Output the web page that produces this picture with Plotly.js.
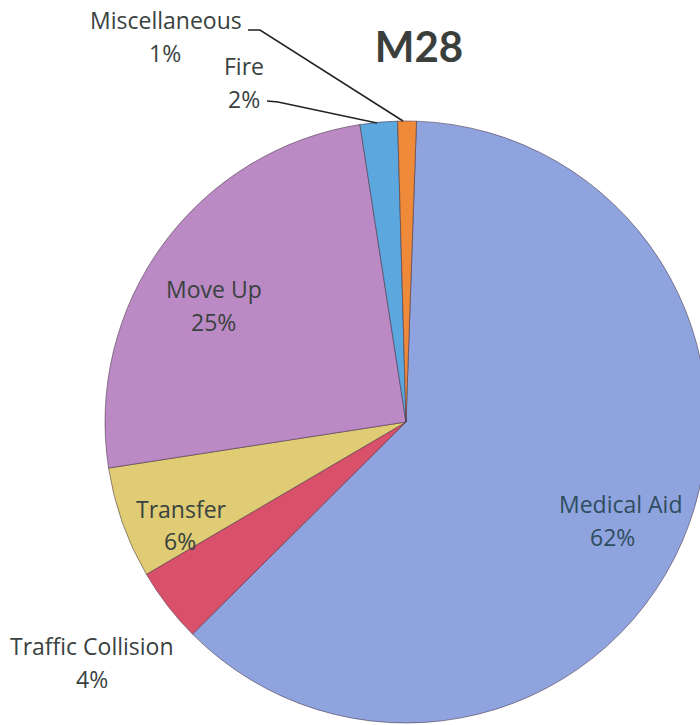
<!DOCTYPE html>
<html>
<head>
<meta charset="utf-8">
<script src="https://cdn.plot.ly/plotly-3.0.1.min.js"></script>
<style>
html,body{margin:0;padding:0;overflow:hidden;background:#fff;width:700px;height:725px;}
#chart{width:720px;height:740px;}
</style>
</head>
<body>
<div id="chart"></div>
<script>
const categories = ["Medical Aid", "Traffic Collision", "Transfer", "Move Up", "Fire", "Miscellaneous"];
const values = [62, 4, 6, 25, 2, 1];
const colors = ["#8fa4de", "#d9506a", "#dfcc74", "#bb8ac4", "#5ca8de", "#ee8a3a"];
const chartTitle = "M28";

const W = 720, H = 740;
const px = x => x / W;
const py = y => 1 - y / H;

const cx = 406, cy = 422, r = 301;

const textColor = "#39423f";
const font = "'Open Sans', Lato, sans-serif";

// label name centre, percent centre, colour
const labelPos = {
  "Medical Aid": [620, 504, 612, 537, "#2e4d60"],
  "Traffic Collision": [92, 646, 92, 679, textColor],
  "Transfer": [181, 509, 180, 541, textColor],
  "Move Up": [214, 289, 213, 322, textColor],
  "Fire": [244, 66, 244, 99, textColor],
  "Miscellaneous": [166, 20, 165, 53, textColor]
};

const annotations = [];
categories.forEach((c, i) => {
  const p = labelPos[c];
  annotations.push({
    x: px(p[0]), y: py(p[1]), xref: "paper", yref: "paper",
    text: c, showarrow: false, xanchor: "center", yanchor: "middle",
    font: {family: font, size: 23, color: p[4]}
  });
  annotations.push({
    x: px(p[2]), y: py(p[3]), xref: "paper", yref: "paper",
    text: values[i] + "%", showarrow: false, xanchor: "center", yanchor: "middle",
    font: {family: font, size: 23, color: p[4]}
  });
});

const shapes = [
  {type: "path", xref: "paper", yref: "paper",
   path: `M ${px(248)} ${py(30)} L ${px(260)} ${py(30)} L ${px(403)} ${py(121)}`,
   line: {color: "#222", width: 1.5}},
  {type: "path", xref: "paper", yref: "paper",
   path: `M ${px(267)} ${py(101)} L ${px(278)} ${py(102)} L ${px(377)} ${py(123)}`,
   line: {color: "#222", width: 1.5}}
];

const data = [{
  type: "pie",
  labels: categories,
  values: values,
  sort: false,
  direction: "clockwise",
  rotation: 2,
  marker: {colors: colors, line: {color: "rgba(70,50,70,0.55)", width: 1}},
  textinfo: "none",
  hoverinfo: "label+percent",
  showlegend: false,
  domain: {x: [(cx - r) / W, (cx + r) / W], y: [1 - (cy + r) / H, 1 - (cy - r) / H]}
}];

const layout = {
  width: W, height: H,
  margin: {l: 0, r: 0, t: 0, b: 0},
  paper_bgcolor: "#fff",
  showlegend: false,
  title: {text: "<b>" + chartTitle + "</b>", x: px(419), y: py(47), xanchor: "center", yanchor: "middle", xref: "paper", yref: "paper",
          font: {family: "Lato, 'Open Sans', sans-serif", size: 42, color: "#3a3f3b"}},
  annotations: annotations,
  shapes: shapes
};

Plotly.newPlot("chart", data, layout, {displayModeBar: false, staticPlot: true});
</script>
</body>
</html>
